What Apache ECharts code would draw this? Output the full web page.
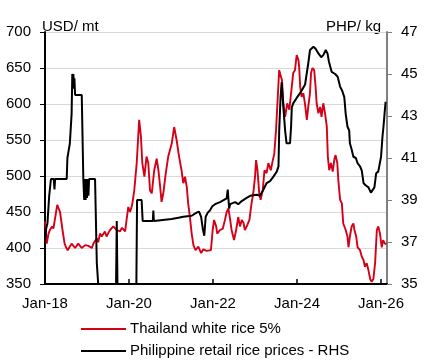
<!DOCTYPE html>
<html><head><meta charset="utf-8">
<script src="https://cdn.jsdelivr.net/npm/echarts@6/dist/echarts.min.js"></script>
<style>html,body{margin:0;padding:0;background:#fff}#c{width:433px;height:364px}</style>
</head><body><div id="c"></div>
<script>
// x positions are months since Jan 2018
const xTickMonths = [0, 24, 48, 72, 96];
const xTickLabels = ['Jan-18', 'Jan-20', 'Jan-22', 'Jan-24', 'Jan-26'];

// Thailand white rice 5% (USD/mt)
const thaiMonths = [0,0.5,1.0,1.4,2.0,2.4,3.0,3.5,4.3,5.0,5.6,6.0,6.5,7.1,7.6,8.1,8.6,9.0,9.5,10.0,10.5,11.0,11.5,11.9,12.4,12.9,13.4,13.8,14.3,14.8,15.2,15.7,16.2,16.7,17.1,17.6,18.1,18.6,19.0,19.5,20.0,20.5,21.0,21.4,22.0,22.4,22.9,23.3,23.8,24.3,24.9,25.5,26.2,26.9,27.4,27.8,28.4,29.0,29.5,30.0,30.5,31.2,31.9,32.4,32.9,33.3,33.8,34.5,35.2,36.2,36.9,37.6,38.3,39.0,39.5,40.0,40.5,40.9,41.4,41.9,42.4,43.0,43.8,44.6,45.2,45.7,46.2,46.7,47.4,47.9,48.3,48.9,49.2,50.0,50.8,51.4,51.9,52.4,52.9,53.3,54.0,54.6,55.2,55.7,56.2,56.7,57.1,57.8,58.4,59.0,59.5,60.0,60.3,60.7,61.2,61.6,62.2,62.7,63.3,63.8,64.5,65.0,65.5,66.0,66.5,66.9,67.3,67.7,68.1,68.6,69.2,69.8,70.5,70.9,71.4,71.9,72.4,72.6,72.9,73.3,73.8,74.3,74.8,75.2,75.7,76.0,76.4,76.9,77.3,77.6,78.1,78.6,79.0,79.5,80.0,80.5,80.8,81.2,81.7,82.2,82.7,83.0,83.5,83.8,84.3,84.8,85.2,85.9,86.4,86.7,87.1,87.6,88.1,88.4,88.9,89.3,90.0,90.5,91.0,91.4,91.9,92.4,92.9,93.3,93.8,94.3,94.8,95.2,95.7,96.2,96.6,97.1,97.6];
const thaiValues = [437,406,420,425,430,427,445,460,450,425,406,401,397,402,406,406,400,402,406,403,400,400,404,406,403,404,400,406,410,413,408,420,416,418,423,416,421,425,427,430,428,425,424,423,428,430,423,439,457,450,460,480,518,578,555,518,499,527,518,480,476,508,524,508,485,464,476,504,527,545,568,550,527,508,490,499,485,462,443,420,404,397,402,393,398,400,396,397,397,425,439,430,420,425,427,439,450,455,439,425,411,425,443,430,439,435,425,432,439,462,476,499,522,508,476,467,480,508,504,518,508,520,531,564,610,647,645,633,601,582,601,592,624,643,647,668,661,652,624,610,615,599,578,596,615,643,650,647,624,601,587,596,582,601,587,569,527,508,518,506,524,529,518,494,467,462,434,425,416,401,416,430,434,425,416,401,397,388,383,374,379,369,357,353,357,379,425,430,420,401,411,406,406];

// Philippine retail rice prices (PHP/kg, RHS)
const phMonths = [0,0.3,0.7,1.2,1.7,2.5,2.7,2.9,6.2,6.4,6.9,7.1,7.6,7.8,8.0,8.1,8.3,8.4,8.6,10.5,10.95,11.2,11.4,11.6,11.8,12.0,12.2,12.4,12.6,14.3,14.8,15.2,20.3,20.5,20.7,26.1,26.3,27.6,27.9,30.8,30.95,31.1,36.2,38.1,39.5,41.9,43.3,44.0,44.6,45.1,45.5,45.9,46.5,47.1,47.8,48.6,50.0,51.9,52.2,52.6,52.9,54.3,55.2,56.2,57.6,58.6,60.5,61.4,61.9,62.4,63.3,64.3,65.2,66.2,66.7,66.9,67.3,67.6,68.1,68.6,69.0,70.0,70.3,70.5,70.9,71.9,72.9,73.3,74.3,75.2,75.7,76.7,77.3,78.1,78.9,79.5,80.2,80.7,81.1,81.9,82.9,83.6,84.3,84.9,85.5,85.9,86.4,86.9,87.1,87.6,88.1,88.8,89.3,90.0,90.5,91.0,91.6,92.4,93.1,93.6,94.1,94.6,95.2,95.7,96.0,96.4,96.7,97.0,97.3];
const phValues = [37.0,37.6,37.9,39.2,40.0,40.0,39.5,40.0,40.0,41.0,41.0,41.7,43.1,45.0,44.8,45.0,44.3,44.8,44.0,44.0,40.0,39.0,40.0,39.0,40.0,39.1,40.0,39.2,40.0,40.0,36.0,35.0,35.0,38.0,35.0,35.0,39.0,39.0,38.0,38.0,38.5,38.0,38.1,38.15,38.2,38.25,38.4,38.45,38.2,37.6,37.3,38.2,38.4,38.5,38.7,38.8,38.9,39.08,39.5,38.6,38.8,38.9,38.8,38.95,39.1,39.2,39.25,39.2,39.35,39.5,39.8,39.9,40.1,40.35,40.6,42.3,43.9,44.6,43.4,42.3,41.7,41.7,42.5,43.4,43.6,43.86,44.1,44.2,44.5,45.5,46.14,46.3,46.2,45.98,45.8,45.9,46.14,45.98,45.6,45.1,45.0,44.87,44.4,44.2,43.9,43.1,42.5,42.3,41.7,41.4,41.06,41.0,40.75,40.6,40.4,39.8,39.7,39.6,39.35,39.4,39.6,40.27,40.35,40.4,41.06,42.0,42.5,43.1,43.68];

const seriesNames = ['Thailand white rice 5%', 'Philippine retail rice prices - RHS'];
const leftUnit = 'USD/ mt';
const rightUnit = 'PHP/ kg';

const FONT = '"Liberation Sans", Arial, sans-serif';
const RED = '#d40018';
const chart = echarts.init(document.getElementById('c'), null, {renderer: 'canvas'});
const pair = (xs, ys) => xs.map((x, i) => [x, ys[i]]);

chart.setOption({
  animation: false,
  textStyle: {fontFamily: FONT},
  grid: {left: 45, right: 46, top: 32, bottom: 80, containLabel: false},
  xAxis: {
    type: 'value', min: 0, max: 97.7, interval: 24,
    axisLine: {show: true, onZero: false, lineStyle: {color: '#000', width: 2}},
    axisTick: {show: true, inside: true, length: 5, customValues: xTickMonths, lineStyle: {color: '#000', width: 1.5}},
    axisLabel: {customValues: xTickMonths, formatter: v => xTickLabels[xTickMonths.indexOf(v)] || '',
      fontSize: 15, color: '#000', fontFamily: FONT, margin: 12},
    splitLine: {show: false}
  },
  yAxis: [{
    type: 'value', min: 350, max: 700, interval: 50, position: 'left',
    axisLine: {show: true, lineStyle: {color: '#000', width: 2}},
    axisTick: {show: true, length: 5, lineStyle: {color: '#000', width: 1}},
    axisLabel: {fontSize: 15, color: '#000', fontFamily: FONT, margin: 14},
    splitLine: {show: true, lineStyle: {color: '#d9d9d9', width: 1}}
  }, {
    type: 'value', min: 35, max: 47, interval: 2, position: 'right',
    axisLine: {show: true, lineStyle: {color: '#808080', width: 2}},
    axisTick: {show: true, length: 5, lineStyle: {color: '#808080', width: 1}},
    axisLabel: {fontSize: 15, color: '#000', fontFamily: FONT, margin: 14},
    splitLine: {show: false}
  }],
  legend: {
    orient: 'vertical', left: 81, top: 321, padding: 0, itemWidth: 45, itemHeight: 2, itemGap: 6,
    icon: 'rect',
    textStyle: {fontSize: 15, color: '#000', fontFamily: FONT, lineHeight: 16, padding: [0, 0, 0, -1]},
    data: [{name: seriesNames[0], itemStyle: {color: RED}}, {name: seriesNames[1], itemStyle: {color: '#000'}}]
  },
  graphic: [
    {type: 'text', left: 42, top: 19, style: {text: leftUnit, font: '15px ' + FONT, fill: '#000'}},
    {type: 'text', right: 52, top: 19, style: {text: rightUnit, font: '15px ' + FONT, fill: '#000'}}
  ],
  series: [{
    name: seriesNames[0], type: 'line', yAxisIndex: 0, symbol: 'none', showSymbol: false,
    lineStyle: {color: RED, width: 1.9}, itemStyle: {color: RED},
    data: pair(thaiMonths, thaiValues), clip: true, z: 2
  }, {
    name: seriesNames[1], type: 'line', yAxisIndex: 1, symbol: 'none', showSymbol: false,
    lineStyle: {color: '#000', width: 2}, itemStyle: {color: '#000'},
    data: pair(phMonths, phValues), clip: true, z: 3
  }]
});
</script></body></html>
